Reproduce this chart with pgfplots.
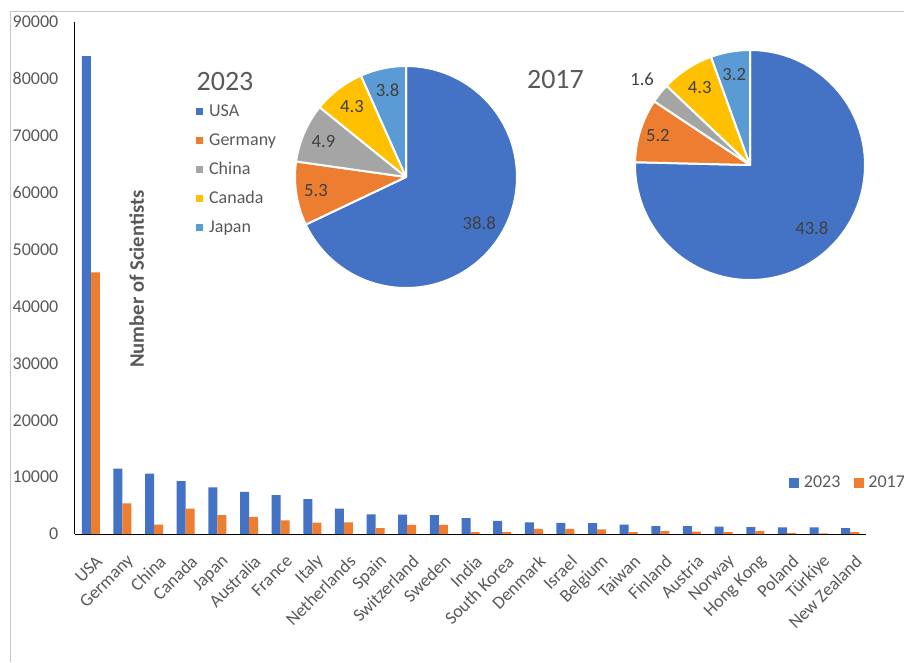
\documentclass[border=0pt]{standalone}
\usepackage{fontspec}
\setmainfont{Carlito}
\usepackage{pgfplots}
\usepackage{pgfplotstable}
\pgfplotsset{compat=1.18}
\definecolor{cA}{HTML}{4472C4}
\definecolor{cB}{HTML}{ED7D31}
\definecolor{cC}{HTML}{A5A5A5}
\definecolor{cD}{HTML}{FFC000}
\definecolor{cE}{HTML}{5B9BD5}
\definecolor{txt}{HTML}{595959}
\definecolor{lbl}{HTML}{404040}
\tikzset{pielbl/.style={text=lbl, font=\fontsize{14}{16}\selectfont}}

\pgfplotstableread{
idx y23 y17
0 84000 46000
1 11500 5400
2 10600 1650
3 9300 4450
4 8200 3300
5 7400 3000
6 6850 2400
7 6150 2000
8 4450 2050
9 3450 1050
10 3400 1600
11 3300 1600
12 2800 350
13 2300 350
14 2050 900
15 1950 900
16 1900 800
17 1650 350
18 1400 500
19 1400 400
20 1300 350
21 1230 500
22 1170 200
23 1150 100
24 1050 350
}\bars

% pie wedge commands: #1 name of command list, #2 radius (pt), #3 total, #4 list value/colour/labelradius
\newcommand\buildpie[4]{%
  \gdef#1{}%
  \gdef\cum{0}%
  \foreach \v/\col/\lr in {#4}{%
    \pgfmathsetmacro\sa{90-\cum/#3*360}%
    \pgfmathsetmacro\newcum{\cum+\v}%
    \pgfmathsetmacro\sb{90-\newcum/#3*360}%
    \pgfmathsetmacro\sm{(\sa+\sb)/2}%
    \pgfmathsetmacro\rr{\lr*#2}%
    \xdef#1{\unexpanded\expandafter{#1}%
      \noexpand\fill[\col, draw=white, line width=1.5pt, line join=round] (axis cs:0,0) -- ++(\sa:#2pt) arc[start angle=\sa, end angle=\sb, radius=#2pt] -- cycle;%
      \noexpand\path (axis cs:0,0) ++(\sm:\rr pt) node[pielbl] {\v};}%
    \global\let\cum\newcum
  }%
}
\buildpie{\pieA}{83.25}{57.1}{38.8/cA/0.78, 5.3/cB/0.82, 4.9/cC/0.81, 4.3/cD/0.8, 3.8/cE/0.8}
\buildpie{\pieB}{86.25}{58.1}{43.8/cA/0.77, 5.2/cB/0.84, 1.6/cC/1.2, 4.3/cD/0.8, 3.2/cE/0.8}

\begin{document}
\begin{tikzpicture}
\useasboundingbox (0pt,0pt) rectangle (678pt,-496.5pt);
\draw[black!22, line width=0.75pt] (7.5pt,-496.5pt) -- (7.5pt,-8.25pt) -- (678pt,-8.25pt);

\begin{axis}[
  at={(56.25pt,-400.5pt)}, anchor=south west,
  scale only axis, width=593.25pt, height=384pt,
  ybar=0pt, bar width=6.75pt,
  xmin=-0.5, xmax=24.5, ymin=0, ymax=90000,
  axis x line*=bottom, axis y line*=left,
  axis line style={-, black, line width=0.75pt},
  xtick={0,...,24},
  xticklabels={USA,Germany,China,Canada,Japan,Australia,France,Italy,Netherlands,Spain,Switzerland,Sweden,India,South Korea,Denmark,Israel,Belgium,Taiwan,Finland,Austria,Norway,Hong Kong,Poland,Türkiye,New Zealand},
  ytick={0,10000,...,90000},
  scaled y ticks=false,
  major tick length=0pt,
  /pgf/number format/1000 sep={},
  /pgf/number format/assume math mode=true,
  tick label style={text=txt, font=\fontsize{13.5}{15}\selectfont},
  yticklabel style={xshift=-9pt},
  xticklabel style={rotate=45, anchor=east, yshift=-17.5pt, xshift=-5pt},
  legend columns=2,
  legend image code/.code={\fill[#1, draw=none] (0pt,-3.75pt) rectangle (7.5pt,3.75pt); \path[draw=none, fill=none] (0pt,0pt) -- (9pt,0pt);},
  legend style={at={(0.9027,0.0996)}, anchor=west, draw=none, fill=none,
    inner sep=0pt, font=\fontsize{13.5}{15}\selectfont, text=txt,
    /tikz/every even column/.append style={column sep=8pt}},
]
\addplot[fill=cA, draw=none] table[x=idx,y=y23]{\bars};
\addplot[fill=cB, draw=none] table[x=idx,y=y17]{\bars};
\legend{2023,2017}
\node[rotate=90, font=\fontsize{15.5}{17}\selectfont\bfseries, text=txt] at (axis cs:1.45,44800) {Number of Scientists};
\end{axis}

% pie 2023
\begin{axis}[
  at={(304.5pt,-132.75pt)}, anchor=center,
  scale only axis, width=166.5pt, height=166.5pt,
  hide axis, clip=false,
  xmin=-1, xmax=1, ymin=-1, ymax=1,
  legend image code/.code={\fill[#1, draw=none] (0pt,-2.5pt) rectangle (5pt,2.5pt); \path[draw=none, fill=none] (0pt,0pt) -- (7.5pt,0pt);},
  legend cell align=left,
  legend style={at={(-0.445,0.862)}, anchor=north west, draw=none, fill=none,
    inner sep=0pt, font=\fontsize{13.5}{15}\selectfont, text=txt,
    nodes={minimum height=21.75pt, inner sep=2pt}},
]
\addlegendimage{fill=cA, draw=none}
\addlegendimage{fill=cB, draw=none}
\addlegendimage{fill=cC, draw=none}
\addlegendimage{fill=cD, draw=none}
\addlegendimage{fill=cE, draw=none}
\legend{USA,Germany,China,Canada,Japan}
\pieA
\end{axis}

% pie 2017
\begin{axis}[
  at={(562.5pt,-123.75pt)}, anchor=center,
  scale only axis, width=172.5pt, height=172.5pt,
  hide axis, clip=false,
  xmin=-1, xmax=1, ymin=-1, ymax=1,
]
\pieB
\end{axis}

\node[text=txt, font=\fontsize{21}{24}\selectfont] at (168.75pt,-61.5pt) {2023};
\node[text=txt, font=\fontsize{21}{24}\selectfont] at (416.6pt,-60pt) {2017};
\end{tikzpicture}
\end{document}
